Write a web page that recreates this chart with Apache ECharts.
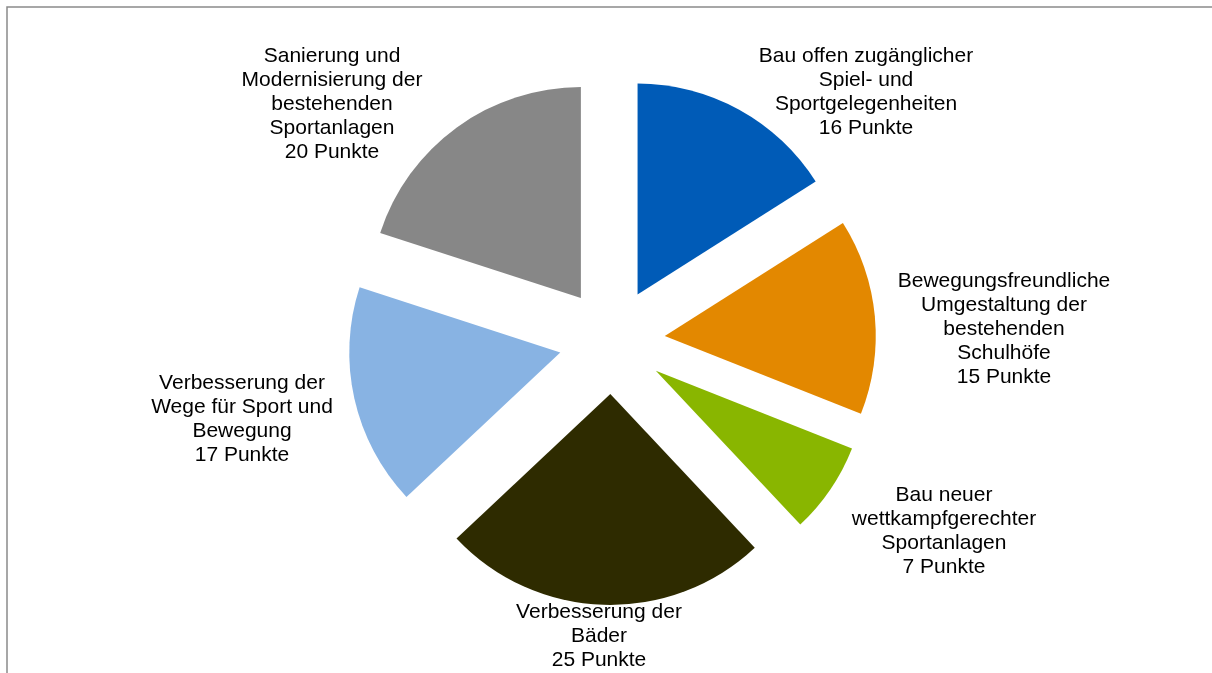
<!DOCTYPE html>
<html>
<head>
<meta charset="utf-8">
<script src="https://cdn.jsdelivr.net/npm/echarts@6/dist/echarts.min.js"></script>
<style>
html,body{margin:0;padding:0;background:#fff;}
#chart{width:1212px;height:673px;}
</style>
</head>
<body>
<div id="chart"></div>
<script>
// ---- data ----
const categories = [
  'Bau offen zugänglicher\nSpiel- und\nSportgelegenheiten',
  'Bewegungsfreundliche\nUmgestaltung der\nbestehenden\nSchulhöfe',
  'Bau neuer\nwettkampfgerechter\nSportanlagen',
  'Verbesserung der\nBäder',
  'Verbesserung der\nWege für Sport und\nBewegung',
  'Sanierung und\nModernisierung der\nbestehenden\nSportanlagen'
];
const values = [16, 15, 7, 25, 17, 20];
const unit = 'Punkte';

// ---- styling / layout ----
const colors = ['#005BB7', '#E38800', '#89B600', '#2E2B00', '#88B3E3', '#878787'];
// label block centres (layout only)
const labelCenters = [[866, 92], [1004, 329], [944, 531], [599, 636], [242, 419], [332, 104]];

const pieCenter = [612, 341];
const pieRadius = 211;

const chart = echarts.init(document.getElementById('chart'), null, {renderer: 'canvas'});
const option = {
  animation: false,
  graphic: [{
    type: 'rect', silent: true, z: 0,
    shape: {x: 7, y: 7, width: 1400, height: 900},
    style: {fill: 'none', stroke: '#8a8a8a', lineWidth: 1.5}
  }],
  series: [{
    // exploded slices
    type: 'pie',
    center: pieCenter,
    radius: pieRadius,
    startAngle: 90,
    clockwise: true,
    selectedMode: 'multiple',
    selectedOffset: 53,
    emphasis: {disabled: true},
    label: {show: false},
    labelLine: {show: false},
    data: values.map((v, i) => ({
      name: categories[i],
      value: v,
      selected: true,
      itemStyle: {color: colors[i]}
    }))
  }, {
    // data labels (same data, invisible sectors)
    type: 'pie',
    center: pieCenter,
    radius: pieRadius,
    startAngle: 90,
    clockwise: true,
    selectedMode: false,
    silent: true,
    z: 3,
    emphasis: {disabled: true},
    itemStyle: {color: 'rgba(0,0,0,0)'},
    label: {
      show: true,
      position: 'outside',
      formatter: '{b}\n{c} ' + unit,
      fontFamily: '"Liberation Sans", Arial, sans-serif',
      fontSize: 21,
      lineHeight: 24,
      color: '#000',
      edgeDistance: 0,
      bleedMargin: 0
    },
    labelLine: {show: false},
    labelLayout: function (p) {
      const c = labelCenters[p.dataIndex];
      return {x: c[0], y: c[1], align: 'center', verticalAlign: 'middle', hideOverlap: false};
    },
    data: values.map((v, i) => ({name: categories[i], value: v}))
  }]
};
chart.setOption(option);
</script>
</body>
</html>
